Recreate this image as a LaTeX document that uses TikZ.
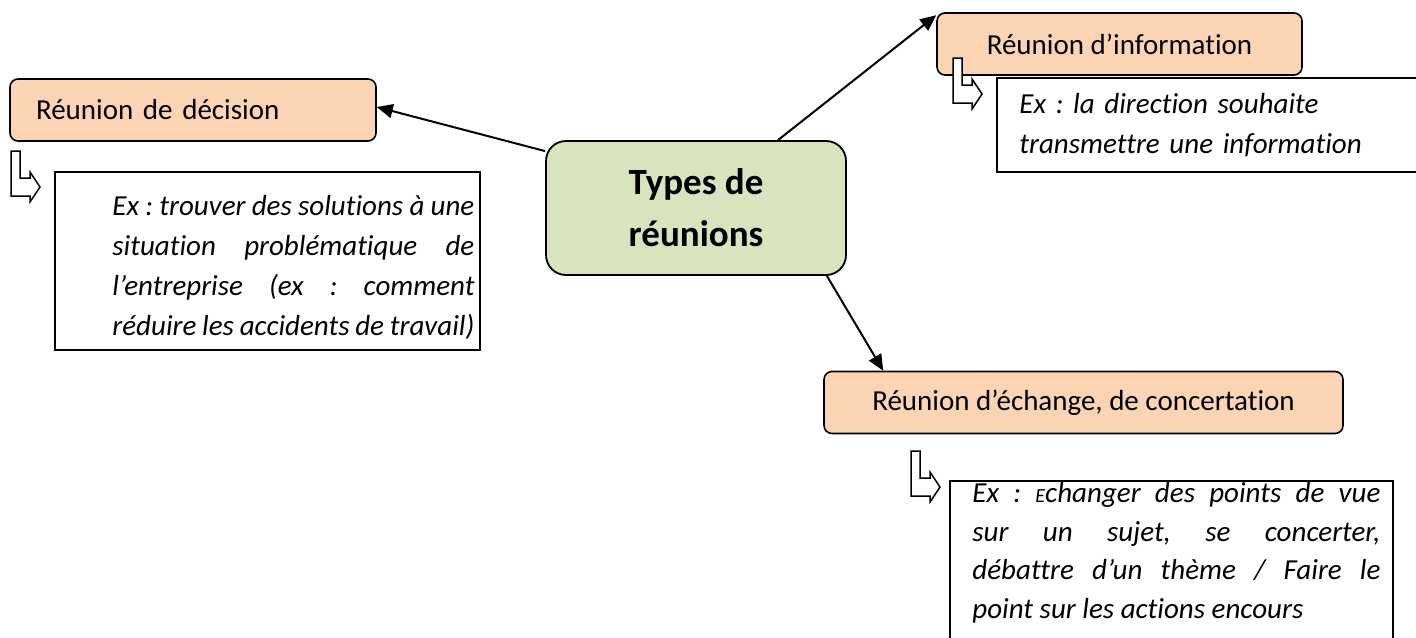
\documentclass[tikz,border=0pt]{standalone}
\usepackage{fontspec}
\setmainfont{Carlito}[Ligatures=NoCommon]
\usetikzlibrary{arrows.meta}
\definecolor{saumon}{HTML}{FBD4B4}
\definecolor{vertclair}{HTML}{D7E4BD}
\frenchspacing

\begin{document}
\begin{tikzpicture}[x=0.5pt, y=-0.5pt,
  type/.style={rectangle, rounded corners=4pt, draw=black, line width=0.8pt, fill=saumon, minimum height=31pt, font=\fontsize{14.5}{17}\selectfont}, % types de reunion
  centre/.style={rectangle, rounded corners=10pt, draw=black, line width=0.9pt, fill=vertclair, minimum width=150pt, minimum height=67pt, align=center, font=\bfseries\fontsize{18.5}{26}\selectfont},
  exemple/.style={inner sep=0pt, anchor=north west, font=\itshape\fontsize{14.5}{20}\selectfont}, % textes des exemples
  cadre/.style={draw=black, line width=0.8pt},
  lien/.style={line width=1pt, -{Triangle[length=8pt, width=7pt]}},
  coude/.pic={\draw[line width=0.75pt, fill=white] (0,0) -- (9,0) -- (9,27) -- (19,27) -- (19,21) -- (29,36) -- (19,51) -- (19,45) -- (0,45) -- cycle;}
]
\useasboundingbox (0,0) rectangle (1416,637);
\clip (0,0) rectangle (1416,637);

% Cadres des exemples
\draw[cadre] (55,172) rectangle (480,350);
\draw[cadre] (997,78) rectangle (1430,172);
\draw[cadre] (950,481) rectangle (1393,650);

% Types de reunion
\node[type, minimum width=183pt, text width=157pt, align=left, inner xsep=13pt] (decision) at (193,110) {Réunion de décision};
\node[type, minimum width=182.5pt] (information) at (1119.5,44) {Réunion d’information};
\node[type, minimum width=259.5pt] (echange) at (1083.5,402.5) {Réunion d’échange, de concertation};

% Noeud central
\node[centre] (types) at (696,208) {Types de\\réunions};

% Liens
\draw[lien] ([yshift=-5.5pt]types.north west) -- ([yshift=1.5pt]decision.east);
\draw[lien] ([xshift=41pt]types.north) -- ([yshift=-1.5pt]information.north west);
\draw[lien] ([xshift=-10pt]types.south east) -- ([xshift=30pt]echange.north west);

% Fleches coudees
\pic at (11,151) {coude};
\pic at (953,58) {coude};
\pic at (911,451) {coude};

% Exemples
\node[exemple, text width=181pt, align=justify] (txtdecision) at (112,187) {\strut Ex : trouver des solutions à une\linebreak situation problématique de\linebreak l’entreprise (ex : comment\linebreak réduire les accidents de travail)};
\node[exemple, text width=200pt, align=left] (txtinfo) at (1019,85) {\strut Ex : la direction souhaite\\transmettre une information};
\node[exemple, text width=204pt, align=justify, font=\itshape\fontsize{14.5}{19.3}\selectfont] (txtechange) at (972,475) {\strut Ex : {\fontsize{10}{12}\selectfont E}changer des points de vue\linebreak sur un sujet, se concerter,\linebreak débattre d’un thème / Faire le\linebreak point sur les actions encours};

\end{tikzpicture}
\end{document}
